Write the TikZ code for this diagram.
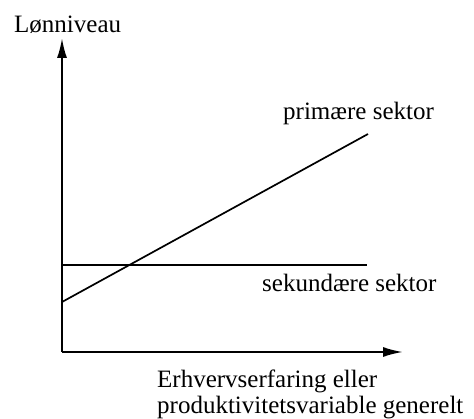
\documentclass[tikz,border=0pt]{standalone}
\usepackage{fontspec}
\setmainfont{Liberation Serif}
\usetikzlibrary{arrows.meta}
\begin{document}
\begin{tikzpicture}[x=1pt,y=-1pt,
  axis/.style={line width=2pt,-{Latex[length=20pt,width=10pt]}},
  curve/.style={line width=1.7pt},
  flat/.style={line width=1.1pt},
  lbl/.style={inner sep=0pt,font=\fontsize{25}{30}\selectfont}]
\useasboundingbox (0,0) rectangle (474,419);
\coordinate (o) at (62,352);
\coordinate (ytop) at (62,38);
\coordinate (xend) at (403,352);
\coordinate (p0) at (62,302);
\coordinate (p1) at (368,134);
\coordinate (s0) at (62,265);
\coordinate (s1) at (367,265);
\draw[axis] (o) -- (ytop);
\draw[axis] (o) -- (xend);
\draw[curve] (p0) -- (p1);
\draw[flat] (s0) -- (s1);
\node[lbl,anchor=base west] (ylab) at (14,33) {Lønniveau};
\node[lbl,anchor=base west] (prim) at (283,120) {primære sektor};
\node[lbl,anchor=base west] (sek) at (262,292) {sekundære sektor};
\node[lbl,anchor=base west] (x1) at (157,388) {Erhvervserfaring eller};
\node[lbl,anchor=base west] (x2) at (157,414) {produktivitetsvariable generelt};
\end{tikzpicture}
\end{document}
